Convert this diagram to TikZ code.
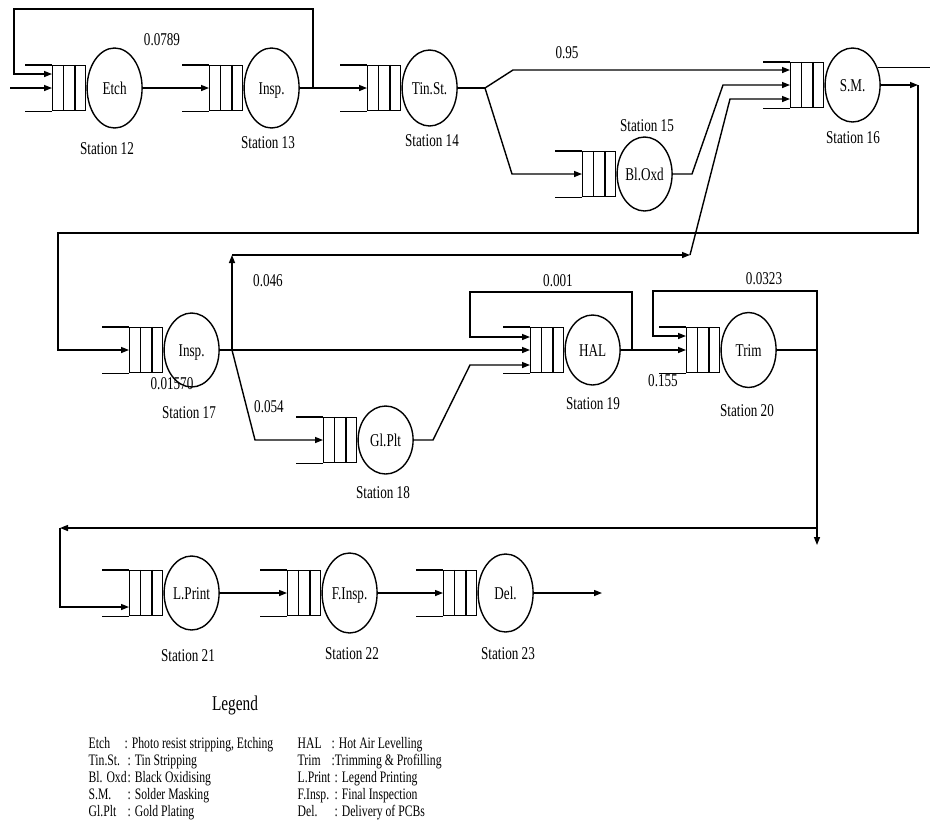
\documentclass[tikz,border=0pt]{standalone}
\usepackage{fontspec}
\setmainfont{Liberation Serif}[FakeStretch=0.73]
\usetikzlibrary{shapes.geometric,arrows.meta,calc}
\newcommand\mkstation[5]{%
  \node[queue, anchor=west] (q#1) at (#2,#3) {};
  \draw (q#1.north west) -- ++(-27,0) (q#1.south west) -- ++(-27,0);
  \draw ($(q#1.north west)!0.333!(q#1.north east)$) -- ($(q#1.south west)!0.333!(q#1.south east)$)
        ($(q#1.north west)!0.667!(q#1.north east)$) -- ($(q#1.south west)!0.667!(q#1.south east)$);
  \node[server, minimum height=#5, anchor=west] (s#1) at (q#1.east) {#4};
}
\begin{document}
\begin{tikzpicture}[x=1pt,y=-1pt,line width=1.4pt,
  queue/.style={draw, rectangle, minimum width=33pt, minimum height=45pt, inner sep=0pt},
  server/.style={draw, ellipse, minimum width=55pt, inner sep=0pt, font=\fontsize{18}{20}\selectfont, text height=12pt, text depth=0pt},
  lab/.style={inner sep=0pt, font=\fontsize{18}{20}\selectfont, text height=12pt, text depth=0pt},
  legt/.style={inner sep=0pt, font=\fontsize{21}{24}\selectfont, text height=14pt, text depth=0pt},
  leg/.style={inner sep=0pt, anchor=west, font=\fontsize{16}{18}\selectfont, text height=11pt, text depth=0pt},
  arr/.style={-{Triangle[length=8pt,width=6pt]}}]
\useasboundingbox (0,0) rectangle (930,823);

% stations
\mkstation{12}{52}{88}{Etch}{80pt}
\mkstation{13}{209}{88}{Insp.}{80pt}
\mkstation{14}{367}{88}{Tin.St.}{76pt}
\mkstation{15}{582}{174}{Bl.Oxd}{74pt}
\mkstation{16}{790}{85}{S.M.}{74pt}
\mkstation{17}{129}{350}{Insp.}{74pt}
\mkstation{18}{323}{440}{Gl.Plt}{68pt}
\mkstation{19}{530}{350}{HAL}{70pt}
\mkstation{20}{686}{350}{Trim}{75pt}
\mkstation{21}{129}{593}{L.Print}{74pt}
\mkstation{22}{287}{593}{F.Insp.}{80pt}
\mkstation{23}{443}{593}{Del.}{78pt}

% station labels
\node[lab] (l12) at (107,148) {Station 12};
\node[lab] (l13) at (268,142) {Station 13};
\node[lab] (l14) at (432,140) {Station 14};
\node[lab] (l15) at (647,125) {Station 15};
\node[lab] (l16) at (853,137) {Station 16};
\node[lab] (l17) at (189,412) {Station 17};
\node[lab] (l18) at (383,492) {Station 18};
\node[lab] (l19) at (593,403) {Station 19};
\node[lab] (l20) at (747,410) {Station 20};
\node[lab] (l21) at (188,655) {Station 21};
\node[lab] (l22) at (352,653) {Station 22};
\node[lab] (l23) at (508,653) {Station 23};

% probabilities
\node[lab] (p1) at (162,39) {0.0789};
\node[lab] (p2) at (567,52) {0.95};
\node[lab] (p3) at (268,280) {0.046};
\node[lab] (p4) at (558,280) {0.001};
\node[lab] (p5) at (764,278) {0.0323};
\node[lab] (p6) at (172,383) {0.01570};
\node[lab] (p7) at (269,406) {0.054};
\node[lab] (p8) at (663,380) {0.155};

% coordinates
\coordinate (in12) at (10,88);
\coordinate (j13) at (313,88);
\coordinate (c13t) at (313,9);
\coordinate (c12l) at (14,9);
\coordinate (j14) at (485,88);
\coordinate (c14u) at (513,70);
\coordinate (c14d) at (512,174);
\coordinate (c15a) at (692,174);
\coordinate (c15b) at (723,85);
\coordinate (j17) at (232,350);
\coordinate (c46a) at (232,255);
\coordinate (c46b) at (690,255);
\coordinate (c46c) at (730,99);
\coordinate (c16r) at (918,85);
\coordinate (c16b) at (58,233);
\coordinate (out16) at (930,68);
\coordinate (c18a) at (255,440);
\coordinate (c18b) at (433,440);
\coordinate (c18c) at (470,365);
\coordinate (j19) at (632,350);
\coordinate (c19t) at (470,292);
\coordinate (j20) at (817,350);
\coordinate (c20t) at (653,291);
\coordinate (c20d) at (817,545);
\coordinate (c20h) at (817,528);
\coordinate (c21l) at (60,528);
\coordinate (out23) at (602,593);

% top row
\draw[arr] (in12) -- (q12.west);
\draw[arr] (s12.east) -- (q13.west);
\draw[arr] (s13.east) -- (q14.west);
\draw[arr] (j13) -- (c13t) -- (c12l) |- ($(q12.west)+(0,-14)$);
\draw (s14.east) -- (j14);
\draw[arr] (j14) -- (c14u) -- ($(q16.west)+(0,-15)$);
\draw[arr] (j14) -- (c14d) -- (q15.west);
\draw[arr] (s15.east) -- (c15a) -- (c15b) -- (q16.west);
\draw (s16.35) -- (s16.35 -| out16);
\draw[arr] (s16.east) -- (c16r);
\draw[arr] (c16r) |- (c16b) |- (q17.west);

% middle row
\draw[arr] (s17.east) -- (q19.west);
\draw[arr] (j17) -- (c46a);
\draw[arr] (c46a) -- (c46b);
\draw[arr] (c46b) -- (c46c) -- ($(q16.west)+(0,14)$);
\draw[arr] (j17) -- (c18a) -- (q18.west);
\draw[arr] (s18.east) -- (c18b) -- (c18c) -- ($(q19.west)+(0,15)$);
\draw[arr] (s19.east) -- (q20.west);
\draw[arr] (j19) |- (c19t) |- ($(q19.west)+(0,-13)$);
\draw (s20.east) -- (j20);
\draw[arr] (j20) |- (c20t) |- ($(q20.west)+(0,-14)$);
\draw[arr] (j20) -- (c20d);
\draw[arr] (c20h) -- (c21l);
\draw[arr] (c21l) |- ($(q21.west)+(0,14)$);

% bottom row
\draw[arr] (s21.east) -- (q22.west);
\draw[arr] (s22.east) -- (q23.west);
\draw[arr] (s23.east) -- (out23);

% legend
\node[legt] (legend) at (235,703) {Legend};
\node[leg] (a1) at (88,743) {Etch};
\node[leg] (d1) at (124,743) {: Photo resist stripping, Etching};
\node[leg] (a2) at (88,760) {Tin.St.};
\node[leg] (d2) at (127,760) {: Tin Stripping};
\node[leg] (a3) at (88,777) {Bl. Oxd};
\node[leg] (d3) at (127,777) {: Black Oxidising};
\node[leg] (a4) at (88,794) {S.M.};
\node[leg] (d4) at (127,794) {: Solder Masking};
\node[leg] (a5) at (88,811) {Gl.Plt};
\node[leg] (d5) at (127,811) {: Gold Plating};
\node[leg] (a6) at (297,743) {HAL};
\node[leg] (d6) at (331,743) {: Hot Air Levelling};
\node[leg] (a7) at (297,760) {Trim};
\node[leg] (d7) at (331,760) {:Trimming \& Profilling};
\node[leg] (a8) at (297,777) {L.Print};
\node[leg] (d8) at (334,777) {: Legend Printing};
\node[leg] (a9) at (297,794) {F.Insp.};
\node[leg] (d9) at (334,794) {: Final Inspection};
\node[leg] (a10) at (297,811) {Del.};
\node[leg] (d10) at (334,811) {: Delivery of PCBs};
\end{tikzpicture}
\end{document}
